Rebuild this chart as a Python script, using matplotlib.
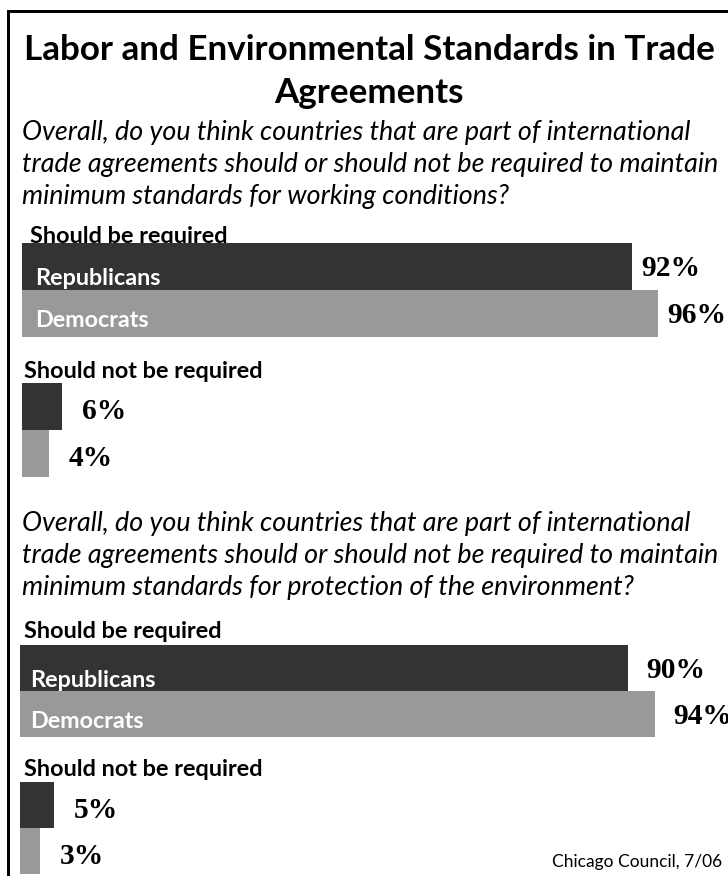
import matplotlib
matplotlib.use("Agg")
import matplotlib.pyplot as plt
from matplotlib.lines import Line2D
from matplotlib.transforms import ScaledTranslation

# ---------------- data ----------------
title_lines = ["Labor and Environmental Standards in Trade", "Agreements"]
q1_lines = ["Overall, do you think countries that are part of international",
            "trade agreements should or should not be required to maintain",
            "minimum standards for working conditions?"]
q2_lines = ["Overall, do you think countries that are part of international",
            "trade agreements should or should not be required to maintain",
            "minimum standards for protection of the environment?"]
groups = ["Republicans", "Democrats"]
resp_labels = ["Should be required", "Should not be required"]
labor_required = [92, 96]
labor_not_required = [6, 4]
env_required = [90, 94]
env_not_required = [5, 3]
source = "Chicago Council, 7/06"

# ---------------- style ----------------
W, H, DPI = 728, 876, 100
dark, light = "#333333", "#999999"
SANS = "Lato"
SERIF = "Liberation Serif"

fig = plt.figure(figsize=(W / DPI, H / DPI), dpi=DPI)
fig.patch.set_facecolor("white")
renderer = fig.canvas.get_renderer()


def fx(x):
    return x / W


def fy(y):
    return 1 - y / H


def fit(t, width):
    w = t.get_window_extent(renderer).width
    t.set_fontsize(t.get_fontsize() * width / w)
    return t.get_fontsize()


def off(ax, dx, dy):
    # offset in pixels (dy positive = down)
    return ax.transData + ScaledTranslation(dx / DPI, -dy / DPI, fig.dpi_scale_trans)


# frame (left and top edges visible)
fig.add_artist(Line2D([fx(7.5), fx(7.5), fx(760)], [fy(900), fy(11), fy(11)],
                      lw=3 * 0.72, color="black", transform=fig.transFigure,
                      solid_joinstyle="miter"))

# title
t1 = fig.text(fx(369), fy(60), title_lines[0], ha="center", va="baseline",
              family=SANS, weight="bold", fontsize=24)
tsize = fit(t1, 692)
fig.text(fx(369), fy(103), title_lines[1], ha="center", va="baseline",
         family=SANS, weight="bold", fontsize=tsize)

# question texts
qsize = None
for lines, base in [(q1_lines, 140), (q2_lines, 531)]:
    for i, s in enumerate(lines):
        t = fig.text(fx(22), fy(base + 32 * i), s, ha="left", va="baseline",
                     family=SANS, style="italic", fontsize=qsize or 14)
        if qsize is None and i == 1:
            qsize = fit(t, 700)
            # refit previous line
for t in fig.texts:
    if t.get_style() == "italic":
        t.set_fontsize(qsize)


def section(rect, req, notreq, lab_dx, req_lab_off, notreq_lab_off,
            inner_dx, val_off_req):
    ax = fig.add_axes(rect)
    ax.set_xlim(0, 100)
    ax.set_ylim(5, 0)
    ax.axis("off")
    ax.barh([0.5, 1.5], req, height=1.0, color=[dark, light], zorder=2)
    ax.barh([3.5, 4.5], notreq, height=1.0, color=[dark, light], zorder=2)
    texts = {}
    texts["r0"] = ax.text(0, 0, resp_labels[0], transform=off(ax, req_lab_off[0], req_lab_off[1]),
                          ha="left", va="baseline", family=SANS, weight="bold",
                          fontsize=12, zorder=1, clip_on=False)
    texts["r1"] = ax.text(0, 3, resp_labels[1], transform=off(ax, notreq_lab_off[0], notreq_lab_off[1]),
                          ha="left", va="baseline", family=SANS, weight="bold",
                          fontsize=12, zorder=1, clip_on=False)
    texts["g"] = []
    for y, name, dy in [(0.5, groups[0], 19), (1.5, groups[1], 14)]:
        texts["g"].append(ax.text(0, y, name, transform=off(ax, inner_dx, dy),
                                  ha="left", va="baseline", family=SANS,
                                  weight="bold", color="white", fontsize=12,
                                  zorder=3, clip_on=False))
    texts["v"] = []
    for y, v in zip([0.5, 1.5], req):
        texts["v"].append(ax.text(v, y, f"{v}%", transform=off(ax, val_off_req, 10),
                                  ha="left", va="baseline", family=SERIF,
                                  weight="bold", fontsize=20, clip_on=False))
    for y, v in zip([3.5, 4.5], notreq):
        texts["v"].append(ax.text(v, y, f"{v}%", transform=off(ax, 20, 12.5),
                                  ha="left", va="baseline", family=SERIF,
                                  weight="bold", fontsize=20, clip_on=False))
    return ax, texts


ax1, T1 = section([fx(22), fy(477), 663 / W, (477 - 243) / H],
                  labor_required, labor_not_required,
                  None, (8, 0), (2, -5), 13, 9)
ax2, T2 = section([fx(20), fy(874), 675 / W, (874 - 645) / H],
                  env_required, env_not_required,
                  None, (4, -7), (4, -6), 10, 19)

# font sizing
lsize = fit(T1["r1"], 238)
gsize = fit(T1["g"][0], 125)
vsize = fit(T1["v"][0], 59)
for T in (T1, T2):
    T["r0"].set_fontsize(lsize)
    T["r1"].set_fontsize(lsize)
    for t in T["g"]:
        t.set_fontsize(gsize)
    for t in T["v"]:
        t.set_fontsize(vsize)

# source
ts = fig.text(fx(722), fy(867), source, ha="right", va="baseline",
              family=SANS, fontsize=10)
fit(ts, 170)

fig.savefig("out.png", dpi=DPI, facecolor="white")
